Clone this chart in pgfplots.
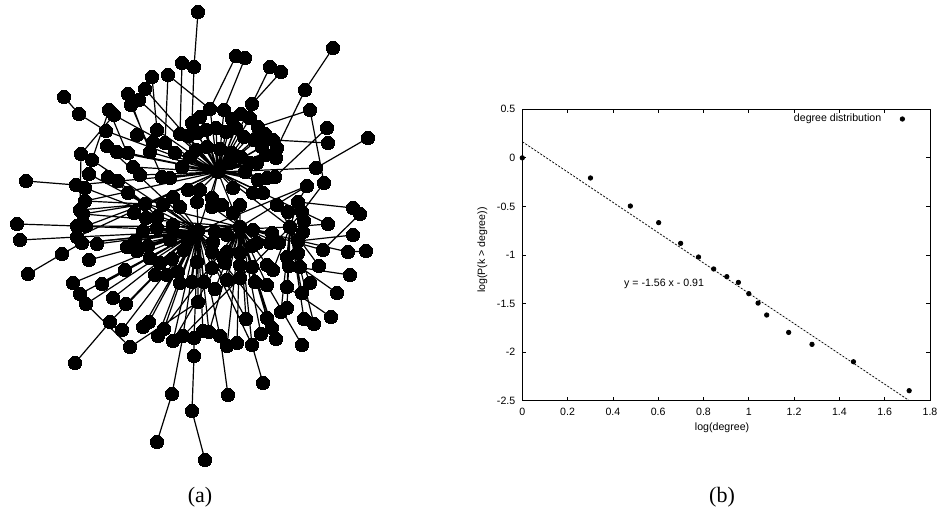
\documentclass[border=0pt]{standalone}
\usepackage{fontspec}
\setmainfont{Liberation Sans}
\newfontfamily\capfont{Liberation Serif}
\usepackage{pgfplots}
\pgfplotsset{compat=1.18}

\begin{document}
\begin{tikzpicture}
\useasboundingbox (0,0) rectangle (468.5pt,259pt);

% ---------------- (a) the network, drawn in pixel coordinates ----------------
\begin{axis}[
  at={(0,0)}, anchor=south west,
  scale only axis, width=468.5pt, height=259pt,
  xmin=0, xmax=937, ymin=0, ymax=518, y dir=reverse,
  hide axis, clip=false,
  net/.style={black, solid, line width=0.6pt, line join=round,
    mark=*, mark size=3.3pt, mark options={black, fill=black, solid, line width=0pt}},
  unbounded coords=jump,
]
% hub 1 and its neighbours
\addplot[net] coordinates {
(218,172)(192,123)(218,172)(200,117)(218,172)(210,109)(218,172)(224,110)(218,172)(232,119)
(218,172)(241,114)(218,172)(250,118)(218,172)(258,127)(218,172)(265,134)(218,172)(273,140)
(218,172)(277,148)(218,172)(276,158)(218,172)(180,134)(218,172)(188,136)(218,172)(197,133)
(218,172)(206,130)(218,172)(216,128)(218,172)(226,132)(218,172)(236,128)(218,172)(244,137)
(218,172)(254,140)(218,172)(262,147)(218,172)(266,155)(218,172)(196,150)(218,172)(207,147)
(218,172)(220,149)(218,172)(232,153)(218,172)(241,157)(218,172)(250,163)(218,172)(245,172)
(218,172)(175,153)(218,172)(190,157)(218,172)(182,167)(218,172)(170,178)(218,172)(162,177)
(218,172)(150,152)(218,172)(140,175)(218,172)(133,167)(218,172)(153,142)(218,172)(157,130)
(218,172)(165,143)(218,172)(137,135)(218,172)(117,152)(218,172)(128,153)(218,172)(257,163)
(218,172)(267,178)(218,172)(275,177)(218,172)(258,180)(218,172)(233,188)(218,172)(253,193)
(218,172)(263,193)(218,172)(212,198)(218,172)(200,190)(218,172)(188,190)(218,172)(230,163)
(218,172)(252,104)(218,172)(145,89)(218,172)(139,100)(218,172)(114,115)(218,172)(106,131)
(218,172)(76,185)(218,172)(316,168)(218,172)
};
% hub 2 and its neighbours
\addplot[net] coordinates {
(198,231)(157,228)(198,231)(143,231)(198,231)(135,241)(198,231)(148,246)(198,231)(170,240)
(198,231)(188,240)(198,231)(184,250)(198,231)(172,259)(198,231)(160,263)(198,231)(150,258)
(198,231)(137,251)(198,231)(155,275)(198,231)(167,275)(198,231)(180,283)(198,231)(192,282)
(198,231)(204,282)(198,231)(197,262)(198,231)(212,268)(198,231)(212,252)(198,231)(198,302)
(198,231)(180,207)(198,231)(197,202)(198,231)(163,205)(198,231)(213,242)(198,231)(215,232)
(198,231)(173,225)(198,231)(85,188)(198,231)(77,226)(198,231)(77,237)(198,231)(92,160)
(198,231)(107,146)(198,231)(110,322)(198,231)(86,304)(198,231)(89,260)(198,231)(97,244)
(198,231)(127,247)(198,231)(82,243)(198,231)(125,270)(198,231)(178,272)(198,231)(143,327)
(198,231)(149,322)(198,231)(158,336)(198,231)(164,329)(198,231)(173,341)(198,231)(183,336)
(198,231)(194,338)(198,231)(203,331)(198,231)(209,332)(198,231)(220,336)(198,231)(73,283)
(198,231)(80,294)(198,231)(102,284)(198,231)(113,298)(198,231)(126,304)(198,231)(122,330)
(198,231)
};
% hub 3 and its neighbours
\addplot[net] coordinates {
(240,227)(212,207)(240,227)(222,205)(240,227)(233,213)(240,227)(240,205)(240,227)(253,230)
(240,227)(257,243)(240,227)(270,243)(240,227)(272,233)(240,227)(252,246)(240,227)(279,243)
(240,227)(227,252)(240,227)(240,253)(240,227)(252,267)(240,227)(267,265)(240,227)(240,265)
(240,227)(225,263)(240,227)(223,257)(240,227)(227,235)(240,227)(307,186)(240,227)(323,250)
(240,227)(348,252)(240,227)(227,280)(240,227)(240,278)(240,227)(255,282)(240,227)(267,285)
(240,227)(215,289)(240,227)(227,346)(240,227)(237,343)(240,227)(252,345)(240,227)(261,334)
(240,227)(246,319)(240,227)(267,318)(240,227)(276,339)(240,227)(272,328)(240,227)
};
% hub 4 (right)
\addplot[net] coordinates {
(290,227)(277,205)(290,227)(288,212)(290,227)(298,202)(290,227)(302,212)(290,227)(304,221)
(290,227)(303,232)(290,227)(298,241)(290,227)(287,257)(290,227)(298,253)(290,227)(300,267)
(290,227)(328,224)(290,227)(273,270)(290,227)(287,287)(290,227)(302,293)(290,227)(289,266)
(290,227)(281,312)(290,227)(287,308)(290,227)(304,319)(290,227)(314,324)(290,227)(310,283)
(290,227)(319,266)(290,227)
};
% hub 5 (left)
\addplot[net] coordinates {
(145,204)(134,213)(145,204)(146,218)(145,204)(157,217)(145,204)(128,193)(145,204)(118,181)
(145,204)(108,177)(145,204)(89,174)(145,204)(85,201)(145,204)(80,210)(145,204)(83,214)
(145,204)(86,226)(145,204)(173,197)(145,204)
};
% remaining edges
\addplot[net] coordinates {
(218,172)(198,231) (nan,nan) (218,172)(240,227) (nan,nan) (198,231)(240,227) (nan,nan)
(218,172)(145,204) (nan,nan) (218,172)(290,227) (nan,nan) (198,231)(290,227) (nan,nan)
(240,227)(145,204) (nan,nan) (198,231)(145,204) (nan,nan)
(85,201)(218,172) (nan,nan) (83,214)(240,227) (nan,nan) (86,226)(240,227) (nan,nan)
(77,237)(218,172) (nan,nan) (82,243)(240,227) (nan,nan) (307,186)(198,231) (nan,nan)
(328,224)(218,172) (nan,nan) (209,332)(240,227) (nan,nan) (173,341)(240,227) (nan,nan)
(158,336)(240,227) (nan,nan) (246,319)(198,231) (nan,nan) (267,318)(198,231) (nan,nan)
(252,345)(198,231) (nan,nan) (183,336)(290,227) (nan,nan)
(198,12)(194,67)(192,123) (nan,nan) (236,56)(210,109) (nan,nan) (245,58)(224,110) (nan,nan)
(333,48)(305,90)(277,148) (nan,nan) (270,67)(252,104) (nan,nan) (281,72)(252,104) (nan,nan)
(182,63)(180,134) (nan,nan) (168,75)(165,143) (nan,nan) (168,75)(210,109) (nan,nan)
(152,77)(157,130) (nan,nan) (128,94)(150,152) (nan,nan) (131,105)(162,177) (nan,nan)
(64,97)(79,114)(106,131) (nan,nan) (109,110)(92,160) (nan,nan) (114,115)(81,154) (nan,nan)
(109,110)(133,167) (nan,nan) (81,154)(80,210) (nan,nan) (26,181)(76,185) (nan,nan)
(17,224)(77,226) (nan,nan) (20,240)(77,237) (nan,nan) (28,274)(62,254)(82,243) (nan,nan)
(75,363)(110,322) (nan,nan) (130,347)(86,304) (nan,nan) (130,347)(198,302) (nan,nan)
(157,442)(172,394)(183,336) (nan,nan) (205,460)(192,411)(194,356)(194,338) (nan,nan)
(228,395)(220,336) (nan,nan) (263,383)(252,345) (nan,nan) (302,345)(267,285) (nan,nan)
(331,317)(287,287) (nan,nan) (337,293)(300,267) (nan,nan) (350,275)(289,266) (nan,nan)
(366,251)(348,252) (nan,nan) (360,214)(323,250) (nan,nan) (353,235)(298,241) (nan,nan)
(353,208)(298,202) (nan,nan) (324,183)(302,212) (nan,nan) (310,110)(258,127) (nan,nan)
(310,110)(324,183) (nan,nan) (327,128)(275,177) (nan,nan) (328,143)(273,140) (nan,nan)
(368,138)(316,168) (nan,nan) (307,186)(298,202)
};
\node[font=\capfont\fontsize{11}{13}\selectfont] at (axis cs:200,497) {(a)};
\node[font=\capfont\fontsize{11}{13}\selectfont] at (axis cs:722,497) {(b)};
\end{axis}

% ---------------- (b) cumulative degree distribution ----------------
\begin{axis}[
  at={(261.15pt,58.65pt)}, anchor=south west,
  scale only axis, width=203.85pt, height=145.7pt,
  xmin=0, xmax=1.8, ymin=-2.5, ymax=0.5,
  xtick={0,0.2,0.4,0.6,0.8,1,1.2,1.4,1.6,1.8},
  xticklabels={0,0.2,0.4,0.6,0.8,1,1.2,1.4,1.6,1.8},
  ytick={-2.5,-2,-1.5,-1,-0.5,0,0.5},
  yticklabels={-2.5,-2,-1.5,-1,-0.5,0,0.5},
  tick pos=both, tick align=inside, major tick length=2pt,
  every tick/.style={black, line width=0.4pt},
  axis line style={line width=0.5pt},
  tick label style={font=\fontsize{5.3}{6.4}\selectfont},
  label style={font=\fontsize{5.3}{6.4}\selectfont},
  xlabel={log(degree)}, ylabel={log(P(k > degree))},
  xlabel style={at={(axis description cs:0.49,-0.094)}, anchor=center},
  ylabel style={at={(axis description cs:-0.098,0.517)}, anchor=center},
  legend style={draw=none, fill=none, at={(axis cs:1.716,0.4)}, anchor=east,
    font=\fontsize{5.3}{6.4}\selectfont, column sep=7.5pt},
  legend plot pos=right, legend cell align=right,
]
\addplot[only marks, mark=*, mark size=1.1pt, black] coordinates {
(0,0) (0.301,-0.207) (0.477,-0.496) (0.602,-0.667) (0.699,-0.880) (0.778,-1.021)
(0.845,-1.144) (0.903,-1.223) (0.954,-1.282) (1.000,-1.398) (1.041,-1.495)
(1.079,-1.618) (1.176,-1.797) (1.279,-1.920) (1.462,-2.099) (1.708,-2.397)
};
\addlegendentry{degree distribution}
\addplot[black, line width=0.35pt, dash pattern=on 1.1pt off 0.7pt, forget plot]
  coordinates {(0,0.166) (1.709,-2.5)};
\node[font=\fontsize{5.3}{6.4}\selectfont] at (axis cs:0.626,-1.3) {y = -1.56 x - 0.91};
\end{axis}
\end{tikzpicture}
\end{document}
